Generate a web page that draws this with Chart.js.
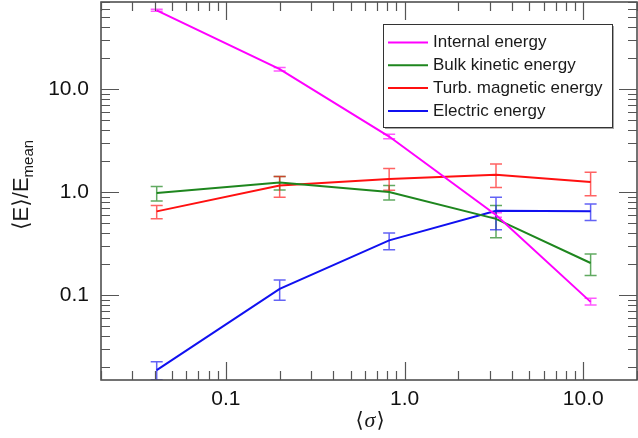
<!DOCTYPE html>
<html>
<head>
<meta charset="utf-8">
<script src="https://cdn.jsdelivr.net/npm/chart.js@4.4.1/dist/chart.umd.min.js"></script>
<style>
  html, body { margin: 0; padding: 0; background: #fff; }
  #wrap { width: 638px; height: 438px; }
</style>
</head>
<body>
<div id="wrap"><canvas id="energyChart" width="638" height="438"></canvas></div>
<script>
// mean magnetization <sigma> of each run
const sigma = [0.041, 0.20, 0.82, 3.25, 11.0];

// <E>/E_mean, with lower / upper ends of the error bars
const internalEnergy = [58, 15.6, 3.46, 0.60, 0.086];
const internalLow = [57, 15.0, 3.30, 0.57, 0.080];
const internalHigh = [59.5, 16.2, 3.65, 0.63, 0.093];

const kineticEnergy = [0.98, 1.24, 1.00, 0.55, 0.205];
const kineticLow = [0.82, 1.05, 0.84, 0.36, 0.155];
const kineticHigh = [1.13, 1.42, 1.16, 0.74, 0.25];

const magneticEnergy = [0.65, 1.16, 1.34, 1.47, 1.25];
const magneticLow = [0.55, 0.89, 1.04, 1.11, 0.92];
const magneticHigh = [0.74, 1.42, 1.69, 1.87, 1.56];

const electricEnergy = [0.0187, 0.115, 0.34, 0.66, 0.65];
const electricLow = [0.0150, 0.089, 0.276, 0.43, 0.53];
const electricHigh = [0.0225, 0.140, 0.40, 0.89, 0.765];

const seriesNames = ["Internal energy", "Bulk kinetic energy", "Turb. magnetic energy", "Electric energy"];

const xTickValues = [0.1, 1, 10];
const xTickLabels = ["0.1", "1.0", "10.0"];
const yTickValues = [0.1, 1, 10];
const yTickLabels = ["0.1", "1.0", "10.0"];

const FONT = "'Liberation Sans', Arial, 'DejaVu Sans', sans-serif";

function pts(ys) {
  return sigma.map((x, i) => ({ x: x, y: ys[i] }));
}

function series(label, ys, lo, hi, color, barColor) {
  return {
    label: label,
    data: pts(ys),
    errLow: lo,
    errHigh: hi,
    barColor: barColor,
    borderColor: color,
    backgroundColor: color,
    borderWidth: 2,
    pointRadius: 0,
    tension: 0,
    fill: false,
  };
}

function labelFor(values, labels, v) {
  for (let i = 0; i < values.length; i++) {
    if (Math.abs(Math.log10(v) - Math.log10(values[i])) < 1e-6) return labels[i];
  }
  return "";
}

// error bars drawn under the lines
const errorBars = {
  id: "errorBars",
  beforeDatasetsDraw(chart) {
    const { ctx, chartArea, scales } = chart;
    ctx.save();
    ctx.beginPath();
    ctx.rect(chartArea.left, chartArea.top, chartArea.right - chartArea.left, chartArea.bottom - chartArea.top);
    ctx.clip();
    ctx.lineWidth = 1.5;
    chart.data.datasets.forEach((ds) => {
      ctx.strokeStyle = ds.barColor;
      ds.data.forEach((p, i) => {
        const x = scales.x.getPixelForValue(p.x);
        const y1 = scales.y.getPixelForValue(ds.errLow[i]);
        const y2 = scales.y.getPixelForValue(ds.errHigh[i]);
        ctx.beginPath();
        ctx.moveTo(x, y1); ctx.lineTo(x, y2);
        ctx.moveTo(x - 6, y1); ctx.lineTo(x + 6, y1);
        ctx.moveTo(x - 6, y2); ctx.lineTo(x + 6, y2);
        ctx.stroke();
      });
    });
    ctx.restore();
  },
};

// frame, inward log ticks on all sides, legend box, axis titles
const decorations = {
  id: "decorations",
  afterDatasetsDraw(chart) {
    const { ctx, chartArea: a, scales } = chart;
    ctx.save();

    ctx.strokeStyle = "#444";
    ctx.lineWidth = 1.5;
    ctx.strokeRect(a.left, a.top, a.right - a.left, a.bottom - a.top);

    ctx.lineWidth = 1.2;
    ctx.strokeStyle = "#555";
    [scales.x, scales.y].forEach((s) => {
      const horiz = s.isHorizontal();
      const e0 = Math.floor(Math.log10(s.min)), e1 = Math.ceil(Math.log10(s.max));
      for (let e = e0; e <= e1; e++) {
        for (let m = 1; m <= 9; m++) {
          const v = m * Math.pow(10, e);
          if (v < s.min * 0.999 || v > s.max * 1.001) continue;
          const p = Math.round(s.getPixelForValue(v)) + 0.5;
          const len = m === 1 ? 18 : 9;
          ctx.beginPath();
          if (horiz) {
            ctx.moveTo(p, a.bottom); ctx.lineTo(p, a.bottom - len);
            ctx.moveTo(p, a.top); ctx.lineTo(p, a.top + len);
          } else {
            ctx.moveTo(a.left, p); ctx.lineTo(a.left + len, p);
            ctx.moveTo(a.right, p); ctx.lineTo(a.right - len, p);
          }
          ctx.stroke();
        }
      }
    });

    // legend
    const bx = a.left + 282, by = 24, bw = 229, bh = 103;
    ctx.fillStyle = "rgba(0,0,0,0.35)";
    ctx.fillRect(bx + 2, by + 2, bw, bh);
    ctx.fillStyle = "#fff";
    ctx.fillRect(bx, by, bw, bh);
    ctx.strokeStyle = "#333";
    ctx.lineWidth = 1;
    ctx.strokeRect(bx + 0.5, by + 0.5, bw, bh);
    ctx.font = "17px " + FONT;
    ctx.textBaseline = "middle";
    ctx.textAlign = "left";
    chart.data.datasets.forEach((ds, i) => {
      const y = by + 18.5 + i * 22.8;
      ctx.strokeStyle = ds.borderColor;
      ctx.lineWidth = 2;
      ctx.beginPath();
      ctx.moveTo(bx + 5, y); ctx.lineTo(bx + 45, y);
      ctx.stroke();
      ctx.fillStyle = "#1a1a1a";
      ctx.fillText(ds.label, bx + 50, y);
    });

    // x title <sigma>
    ctx.fillStyle = "#1a1a1a";
    ctx.textBaseline = "middle";
    const cx = (a.left + a.right) / 2, ty = 421;
    const fb = "21px " + FONT, fi = "italic 22px 'Liberation Serif', 'DejaVu Serif', serif";
    ctx.font = fb; const wl = ctx.measureText("\u27E8").width, wr = ctx.measureText("\u27E9").width;
    ctx.font = fi; const ws = ctx.measureText("\u03C3").width;
    let x0 = cx - (wl + ws + wr) / 2;
    ctx.font = fb; ctx.fillText("\u27E8", x0, ty);
    ctx.font = fi; ctx.fillText("\u03C3", x0 + wl + 1, ty);
    ctx.font = fb; ctx.fillText("\u27E9", x0 + wl + ws + 2, ty);

    // y title <E>/E_mean
    ctx.translate(28, (a.top + a.bottom) / 2 - 6);
    ctx.rotate(-Math.PI / 2);
    ctx.textBaseline = "alphabetic";
    const main = "\u27E8E\u27E9/E", sub = "mean";
    ctx.font = "22px " + FONT; const wm = ctx.measureText(main).width;
    ctx.font = "15px " + FONT; const wsub = ctx.measureText(sub).width;
    const sx = -(wm + wsub) / 2;
    ctx.font = "22px " + FONT; ctx.fillText(main, sx, 0);
    ctx.font = "15px " + FONT; ctx.fillText(sub, sx + wm, 5);

    ctx.restore();
  },
};

new Chart(document.getElementById("energyChart"), {
  type: "line",
  data: {
    datasets: [
      series(seriesNames[0], internalEnergy, internalLow, internalHigh, "#ff00ff", "rgba(255,0,255,0.65)"),
      series(seriesNames[1], kineticEnergy, kineticLow, kineticHigh, "#1e861e", "rgba(30,134,30,0.7)"),
      series(seriesNames[2], magneticEnergy, magneticLow, magneticHigh, "#ff1010", "rgba(255,16,16,0.65)"),
      series(seriesNames[3], electricEnergy, electricLow, electricHigh, "#1010f0", "rgba(16,16,240,0.65)"),
    ],
  },
  options: {
    responsive: false,
    animation: false,
    devicePixelRatio: 1,
    layout: { padding: { top: 2, right: 1, left: 0, bottom: 0 } },
    plugins: { legend: { display: false }, tooltip: { enabled: false } },
    scales: {
      x: {
        type: "logarithmic",
        position: "bottom",
        min: 0.02,
        max: 20,
        grid: { display: false, drawTicks: false },
        border: { display: false },
        afterBuildTicks: (s) => { s.ticks = xTickValues.map((v) => ({ value: v })); },
        afterFit: (s) => { s.height = 58; s.paddingLeft = 0; s.paddingRight = 0; },
        ticks: {
          autoSkip: false,
          maxRotation: 0,
          padding: 7,
          color: "#111",
          font: { size: 21, family: FONT },
          callback: (v) => labelFor(xTickValues, xTickLabels, v),
        },
      },
      y: {
        type: "logarithmic",
        position: "left",
        min: 0.015,
        max: 70,
        grid: { display: false, drawTicks: false },
        border: { display: false },
        afterBuildTicks: (s) => { s.ticks = yTickValues.map((v) => ({ value: v })); },
        afterFit: (s) => { s.width = 101; s.paddingTop = 0; s.paddingBottom = 0; },
        ticks: {
          autoSkip: false,
          padding: 12,
          color: "#111",
          font: { size: 21, family: FONT },
          callback: (v) => labelFor(yTickValues, yTickLabels, v),
        },
      },
    },
  },
  plugins: [errorBars, decorations],
});
</script>
</body>
</html>
